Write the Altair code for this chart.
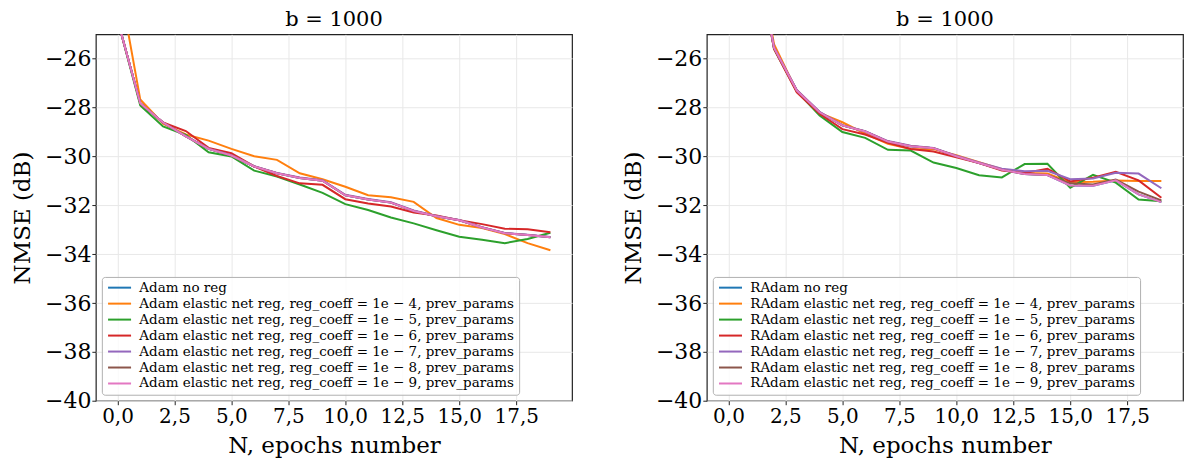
import altair as alt
import pandas as pd

FONT = "DejaVu Serif"

epochs = list(range(20))

adam_names = [
    "Adam no reg",
    "Adam elastic net reg, reg_coeff = 1e − 4, prev_params",
    "Adam elastic net reg, reg_coeff = 1e − 5, prev_params",
    "Adam elastic net reg, reg_coeff = 1e − 6, prev_params",
    "Adam elastic net reg, reg_coeff = 1e − 7, prev_params",
    "Adam elastic net reg, reg_coeff = 1e − 8, prev_params",
    "Adam elastic net reg, reg_coeff = 1e − 9, prev_params",
]
radam_names = ["R" + n for n in adam_names]

colors = ["#1f77b4", "#ff7f0e", "#2ca02c", "#d62728", "#9467bd", "#8c564b", "#e377c2"]

# Left panel (Adam)
adam_noreg = [-24.4, -27.82, -28.61, -29.18, -29.69, -29.96, -30.41, -30.69, -30.88, -30.99,
              -31.59, -31.76, -31.89, -32.23, -32.45, -32.61, -32.91, -33.14, -33.22, -33.31]
adam_1e4 = [-22.5, -27.67, -28.66, -29.10, -29.35, -29.69, -29.99, -30.14, -30.69, -30.93,
            -31.24, -31.59, -31.67, -31.86, -32.52, -32.80, -32.93, -33.18, -33.55, -33.84]
adam_1e5 = [-24.4, -27.91, -28.77, -29.12, -29.83, -30.00, -30.58, -30.82, -31.15, -31.49,
            -31.95, -32.19, -32.50, -32.74, -33.02, -33.29, -33.41, -33.55, -33.38, -33.12]
adam_1e6 = [-24.4, -27.82, -28.61, -28.96, -29.65, -29.87, -30.41, -30.80, -31.10, -31.16,
            -31.75, -31.93, -32.05, -32.29, -32.42, -32.61, -32.77, -32.96, -32.98, -33.10]
adam_1e7 = [-24.4, -27.82, -28.61, -29.17, -29.68, -29.95, -30.40, -30.68, -30.86, -30.97,
            -31.57, -31.74, -31.87, -32.21, -32.44, -32.60, -32.90, -33.13, -33.21, -33.30]
adam_1e8 = [-24.4, -27.82, -28.61, -29.18, -29.69, -29.96, -30.41, -30.69, -30.88, -30.99,
            -31.59, -31.76, -31.89, -32.23, -32.45, -32.61, -32.91, -33.14, -33.22, -33.31]
adam_1e9 = [-24.4, -27.82, -28.61, -29.18, -29.69, -29.96, -30.41, -30.69, -30.88, -30.99,
            -31.59, -31.76, -31.89, -32.23, -32.45, -32.61, -32.91, -33.14, -33.22, -33.31]

# Right panel (RAdam)
radam_noreg = [-14.0, -20.5, -25.55, -27.30, -28.19, -28.73, -28.98, -29.39, -29.58, -29.66,
               -29.99, -30.27, -30.54, -30.72, -30.76, -31.19, -31.20, -30.98, -31.55, -31.87]
radam_1e4 = [-14.0, -20.3, -25.40, -27.34, -28.22, -28.60, -29.07, -29.48, -29.69, -29.70,
             -29.95, -30.23, -30.52, -30.68, -30.70, -31.06, -31.04, -30.98, -31.00, -31.00]
radam_1e5 = [-14.0, -20.5, -25.60, -27.34, -28.32, -29.00, -29.24, -29.73, -29.76, -30.25,
             -30.47, -30.77, -30.86, -30.31, -30.30, -31.28, -30.75, -31.07, -31.76, -31.83]
radam_1e6 = [-14.0, -20.5, -25.60, -27.38, -28.25, -28.88, -29.10, -29.44, -29.69, -29.80,
             -30.03, -30.27, -30.58, -30.68, -30.50, -31.02, -30.87, -30.63, -30.98, -31.69]
radam_1e7 = [-14.0, -20.5, -25.55, -27.28, -28.17, -28.72, -28.97, -29.37, -29.56, -29.65,
             -29.97, -30.25, -30.50, -30.61, -30.59, -30.93, -30.90, -30.67, -30.70, -31.30]
radam_1e8 = [-14.0, -20.5, -25.55, -27.30, -28.19, -28.73, -28.98, -29.39, -29.58, -29.66,
             -29.99, -30.27, -30.54, -30.72, -30.76, -31.10, -31.15, -30.95, -31.44, -31.80]
radam_1e9 = [-14.0, -20.5, -25.55, -27.30, -28.19, -28.73, -28.98, -29.39, -29.58, -29.66,
             -29.99, -30.27, -30.54, -30.72, -30.76, -31.19, -31.20, -30.98, -31.55, -31.87]

x_ticks = [0, 2.5, 5, 7.5, 10, 12.5, 15, 17.5]
y_ticks = [-40, -38, -36, -34, -32, -30, -28, -26]

PANEL_W = 477
PANEL_H = 367


def panel(names, series):
    layers = []
    for name, vals in zip(names, series):
        df = pd.DataFrame({"N": epochs, "NMSE": vals, "series": name})
        layers.append(
            alt.Chart(df).mark_line(clip=True, strokeWidth=2).encode(
                x=alt.X("N:Q",
                        scale=alt.Scale(domain=[-0.95, 19.95], nice=False, zero=False),
                        axis=alt.Axis(values=x_ticks, title="N, epochs number",
                                      labelFontSize=20, labelPadding=2,
                                      titleFontSize=23, titlePadding=8,
                                      labelExpr="replace(format(datum.value, '.1f'), '.', ',')")),
                y=alt.Y("NMSE:Q",
                        scale=alt.Scale(domain=[-40, -25], nice=False, zero=False),
                        axis=alt.Axis(values=y_ticks, title="NMSE (dB)", format="d",
                                      labelFontSize=22, labelPadding=1,
                                      titleFontSize=23, titlePadding=10)),
                color=alt.Color("series:N",
                                sort=names,
                                scale=alt.Scale(domain=names, range=colors),
                                legend=alt.Legend(
                                    title=None, orient="bottom-left", offset=6,
                                    symbolType="M-3,0H3", symbolStrokeWidth=2, symbolSize=59,
                                    symbolOffset=7,
                                    labelFont=FONT, labelFontSize=13.5, labelLimit=1000,
                                    labelOffset=13, rowPadding=1.0, padding=4,
                                    fillColor="rgba(255,255,255,0.8)", strokeColor="#b0b0b0",
                                    cornerRadius=3)),
            )
        )
    return alt.layer(*layers).properties(
        width=PANEL_W, height=PANEL_H,
        title=alt.Title("b = 1000", font=FONT, fontSize=21, fontWeight="normal", offset=4),
    )


left = panel(adam_names, [adam_noreg, adam_1e4, adam_1e5, adam_1e6, adam_1e7, adam_1e8, adam_1e9])
right = panel(radam_names, [radam_noreg, radam_1e4, radam_1e5, radam_1e6, radam_1e7, radam_1e8, radam_1e9])

chart = alt.hconcat(left, right, spacing=48).resolve_scale(color="independent").properties(
    padding={"left": 2, "top": 0, "right": 0, "bottom": 0}
).configure_view(
    stroke="#222222", strokeWidth=1.2
).configure_axis(
    labelFont=FONT, labelColor="black",
    titleFont=FONT, titleFontWeight="normal", titleColor="black",
    tickColor="#222222", tickSize=4, domain=False,
    gridColor="#e8e8e8", gridWidth=1,
).configure_title(color="black", anchor="middle")

chart.save("out.html", embed_options={"renderer": "svg", "actions": False})
